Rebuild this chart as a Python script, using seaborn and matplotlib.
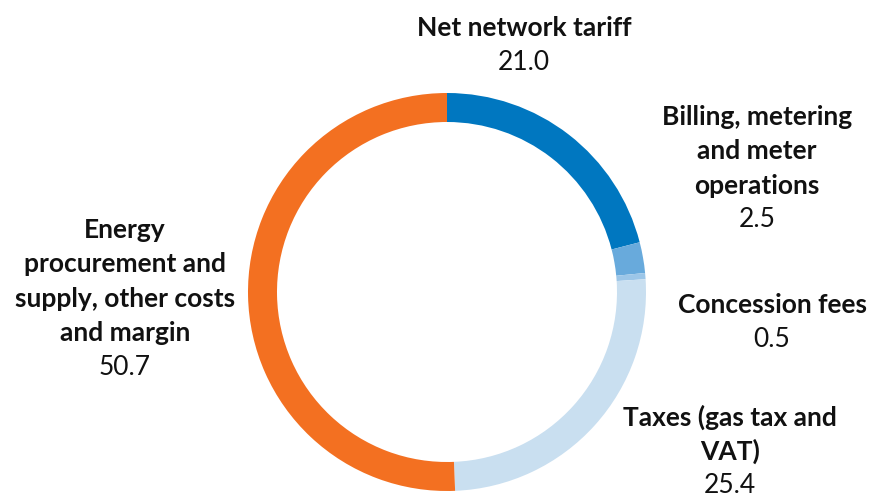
import matplotlib
matplotlib.use("Agg")
import matplotlib.pyplot as plt
import seaborn as sns

# Composition of the gas price (shares in percent)
categories = [
    "Net network tariff",
    "Billing, metering\nand meter\noperations",
    "Concession fees",
    "Taxes (gas tax and\nVAT)",
    "Energy\nprocurement and\nsupply, other costs\nand margin",
]
values = [21.0, 2.5, 0.5, 25.4, 50.7]
value_labels = ["21.0", "2.5", "0.5", "25.4", "50.7"]
colors = ["#0077c0", "#68aadc", "#9cc6e8", "#c9dff0", "#f37021"]

sns.set_theme(style="white")
plt.rcParams["font.family"] = ["Lato", "DejaVu Sans"]

W, H = 872, 497
fig = plt.figure(figsize=(W / 100, H / 100), dpi=100)
ax = fig.add_axes([0, 0, 1, 1])
ax.set_xlim(0, W)
ax.set_ylim(0, H)
ax.set_aspect("equal")
ax.axis("off")

cx, cy, r = 447, H - 292, 199
ax.pie(values, colors=colors, startangle=90, counterclock=False,
       center=(cx, cy), radius=r,
       wedgeprops=dict(width=29, linewidth=0))
ax.set_xlim(0, W)
ax.set_ylim(0, H)

# label anchors: (x centre, y of first line) in pixel rows from the top
anchors = [(524, 28), (757, 117), (772, 305), (730, 417), (125, 230)]
line_h = 34.3
for name, val, (x, y0) in zip(categories, value_labels, anchors):
    lines = name.split("\n")
    for i, ln in enumerate(lines):
        ax.text(x, H - (y0 + i * line_h), ln, ha="center", va="center",
                fontsize=19, fontweight="bold", color="#111111")
    ax.text(x, H - (y0 + len(lines) * line_h), val, ha="center", va="center",
            fontsize=19, color="#111111")

fig.savefig("out.png", dpi=100)
